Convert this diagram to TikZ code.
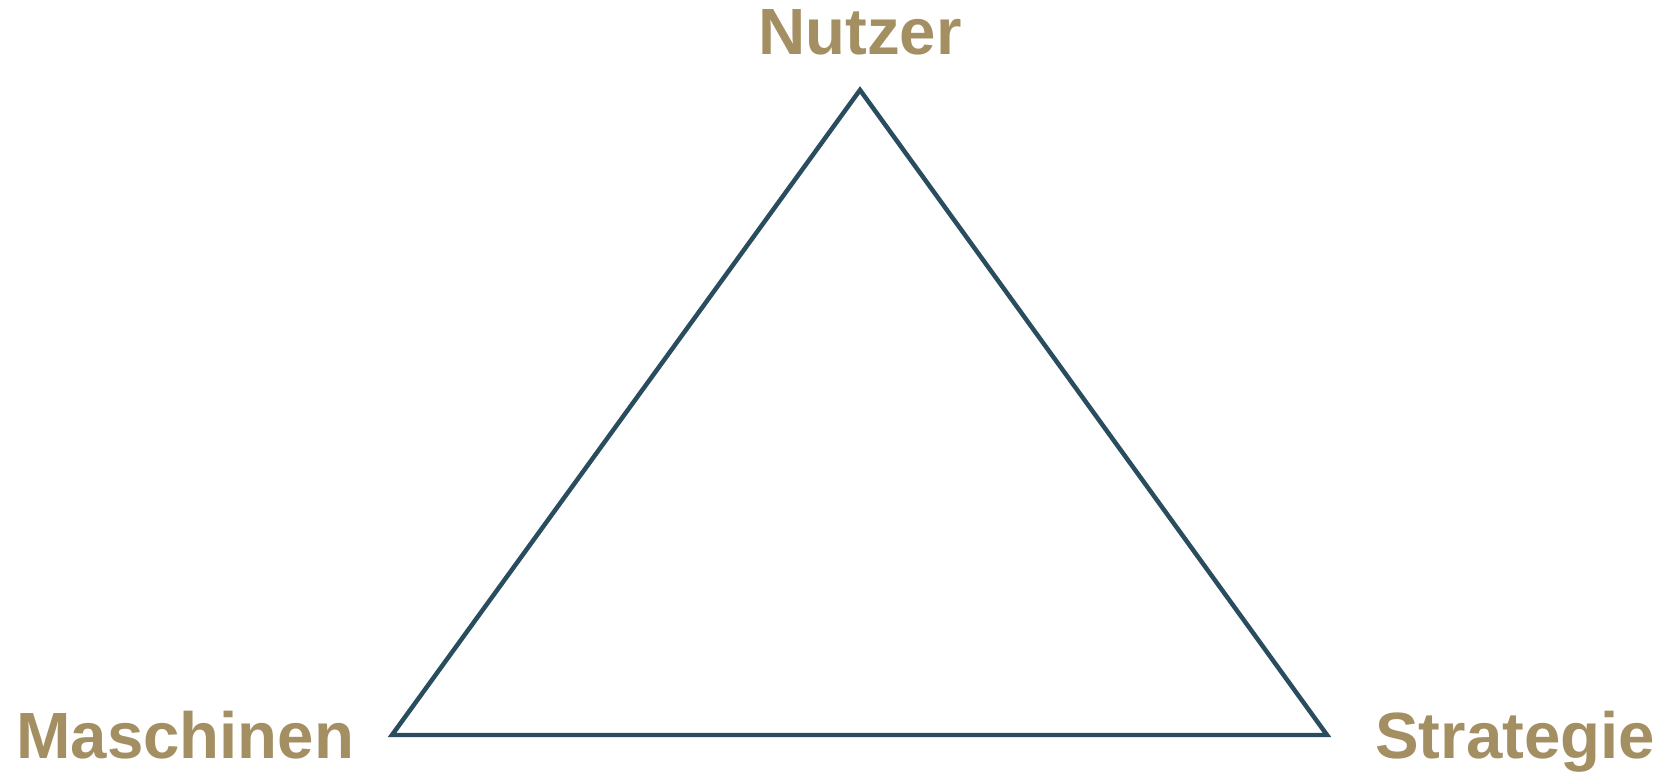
\documentclass[tikz,border=0pt]{standalone}
\usepackage{fontspec}
\setmainfont{Liberation Sans}
\usetikzlibrary{positioning}
\definecolor{gold}{HTML}{A48F62}
\definecolor{edge}{HTML}{294C5F}
\tikzset{
  corner/.style={font=\fontsize{37.2}{40}\selectfont\bfseries,gold,inner sep=0pt}
}

\begin{document}
\begin{tikzpicture}[x=0.02cm,y=0.02cm]
  \useasboundingbox (0,0) rectangle (1656,771);

  % corners of the triangle
  \coordinate (top) at (860,681);
  \coordinate (left) at (392,36);
  \coordinate (right) at (1327,36);

  \draw[edge,line width=2.55pt,line join=miter] (top) -- (right) -- (left) -- cycle;

  % labels
  \node[corner,anchor=base] (nutzer) at (860,716) {Nutzer};
  \node[corner,anchor=base west] (maschinen) at (16,13) {Maschinen};
  \node[corner,anchor=base west] (strategie) at (1375,13) {Strategie};
\end{tikzpicture}
\end{document}
